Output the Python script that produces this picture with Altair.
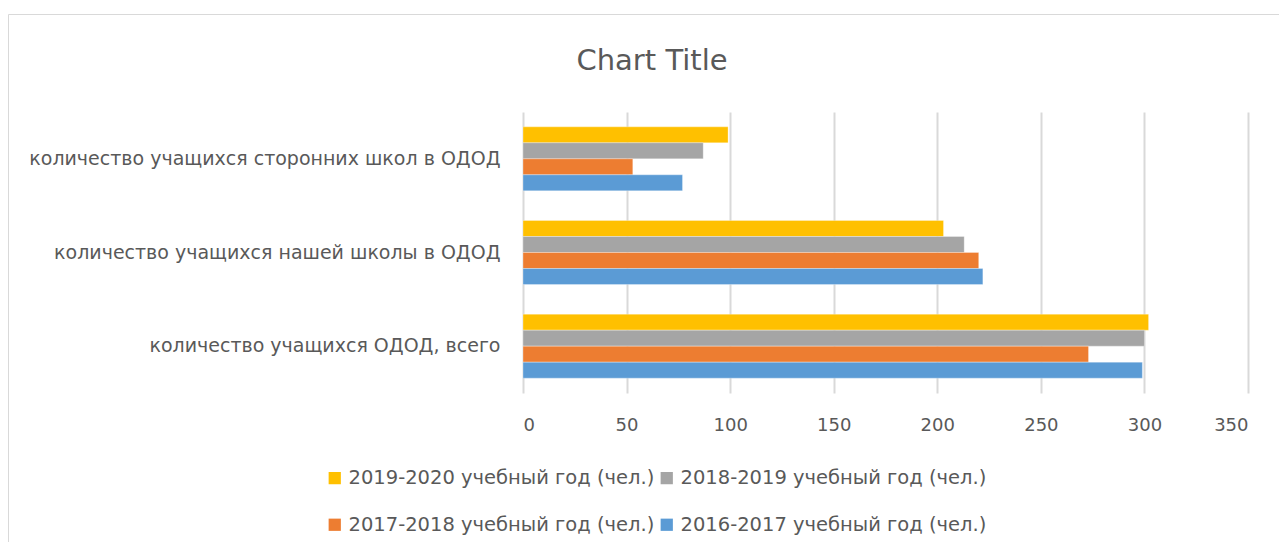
import altair as alt
import pandas as pd

categories = [
    "количество учащихся сторонних школ в ОДОД",
    "количество учащихся нашей школы в ОДОД",
    "количество учащихся ОДОД, всего",
]
series = [
    "2019-2020 учебный год (чел.)",
    "2018-2019 учебный год (чел.)",
    "2017-2018 учебный год (чел.)",
    "2016-2017 учебный год (чел.)",
]
v_2019_2020 = [99, 203, 302]
v_2018_2019 = [87, 213, 300]
v_2017_2018 = [53, 220, 273]
v_2016_2017 = [77, 222, 299]
colors = ["#FFC000", "#A5A5A5", "#ED7D31", "#5B9BD5"]
ticks = [0, 50, 100, 150, 200, 250, 300, 350]
chart_title = "Chart Title"

rows = []
for s, vals in zip(series, [v_2019_2020, v_2018_2019, v_2017_2018, v_2016_2017]):
    for c, v in zip(categories, vals):
        rows.append({"category": c, "series": s, "value": v})
df = pd.DataFrame(rows)

# legend is filled column by column: order so rows read 2019-2020 | 2018-2019, 2017-2018 | 2016-2017
legend_order = [series[0], series[2], series[1], series[3]]
legend_colors = [colors[0], colors[2], colors[1], colors[3]]

FONT = "DejaVu Sans"
TXT = "#595959"

bars = alt.Chart(df).mark_bar(stroke="white", strokeWidth=0.5, strokeOpacity=0.6).encode(
    x=alt.X(
        "value:Q",
        scale=alt.Scale(domain=[0, 350], nice=False),
        axis=alt.Axis(
            values=ticks, title=None, domain=False, ticks=False,
            grid=True, gridColor="#D9D9D9", gridWidth=2,
            labelFont=FONT, labelFontSize=18, labelColor=TXT, labelPadding=23,
        ),
    ),
    y=alt.Y(
        "category:N",
        sort=categories,
        scale=alt.Scale(paddingInner=0.317, paddingOuter=0.1585),
        axis=alt.Axis(
            title=None, domain=False, ticks=False, grid=False,
            labelFont=FONT, labelFontSize=19, labelColor=TXT, labelPadding=23,
            labelLimit=600,
        ),
    ),
    yOffset=alt.YOffset("series:N", sort=series),
    color=alt.Color(
        "series:N",
        scale=alt.Scale(domain=legend_order, range=legend_colors),
        legend=alt.Legend(
            title=None, orient="none", legendX=-198, legendY=356,
            columns=2, symbolType="square", symbolSize=150, symbolStrokeWidth=0,
            labelFont=FONT, labelFontSize=19.5, labelColor=TXT, labelLimit=500,
            rowPadding=26, columnPadding=2, labelOffset=4,
        ),
    ),
)

frame_df = pd.DataFrame({"f": [0]})
frame = alt.Chart(frame_df).mark_rect(fill=None, stroke="#D9D9D9", strokeWidth=1).encode(
    x=alt.value(-514.5), y=alt.value(-97.5), x2=alt.value(900), y2=alt.value(600)
)

title = alt.Chart(pd.DataFrame({"t": [chart_title]})).mark_text(
    font=FONT, fontSize=29, color=TXT, align="center", baseline="alphabetic"
).encode(text="t:N", x=alt.value(129), y=alt.value(-42))

chart = alt.layer(frame, bars, title).properties(
    width=725,
    height=281,
    autosize=alt.AutoSizeParams(type="none"),
    padding={"left": 515, "top": 104, "right": 31, "bottom": 149},
).configure_view(stroke=None)

chart.save("out.html", embed_options={"renderer": "svg", "actions": False})
